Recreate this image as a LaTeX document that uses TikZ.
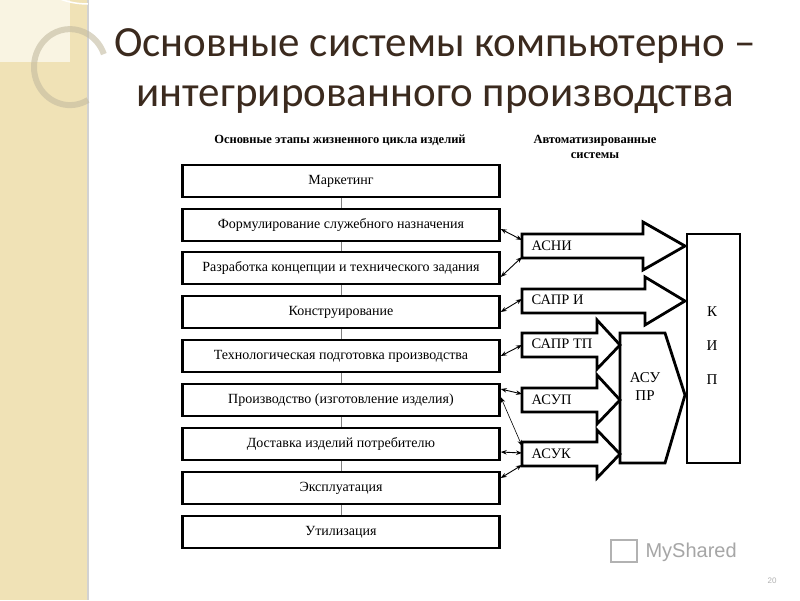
\documentclass[tikz,border=0pt]{standalone}
\usepackage{fontspec}
\setmainfont{Liberation Serif}
\newfontfamily\titlefont{Carlito}
\newfontfamily\sansf{Liberation Sans}
\usetikzlibrary{arrows.meta}
\definecolor{panel}{HTML}{F0E2B6}
\definecolor{ttl}{HTML}{3B2A1E}
\begin{document}
\begin{tikzpicture}[x=1pt,y=-1pt,
  stage/.style={draw,line width=2.4pt,minimum width=317pt,minimum height=32pt,inner sep=0pt,font=\fontsize{14}{16}\selectfont},
  blk/.style={draw,line width=2.8pt,fill=white,line join=miter},
  lbl/.style={font=\fontsize{14.5}{16}\selectfont,anchor=west},
  link/.style={line width=0.9pt,{Stealth[length=6pt,width=4.5pt]}-{Stealth[length=6pt,width=4.5pt]}}]
\useasboundingbox (0,0) rectangle (800,600);
\fill[white] (0,0) rectangle (800,600);
% side panel
\fill[panel] (0,0) rectangle (88,600);
\fill[panel!40!white] (0,0) rectangle (70,62);
\draw[gray!35,line width=2pt] (88,0) -- (88,600);
\draw[white,line width=1.5pt] (88,4) arc (90:260:72 and 64);
\draw[panel!60!gray,opacity=0.6,line width=6pt] (88,100) arc (60:340:36 and 38);
% title
\node[font=\titlefont\fontsize{43}{48}\selectfont,text=ttl] (t1) at (435,46) {Основные системы компьютерно –};
\node[font=\titlefont\fontsize{43}{48}\selectfont,text=ttl] (t2) at (435,100) {интегрированного производства};
% headings
\node[font=\bfseries\fontsize{12.5}{14}\selectfont] (h1) at (340,140) {Основные этапы жизненного цикла изделий};
\node[font=\bfseries\fontsize{12.5}{15}\selectfont,align=center] (h2) at (595,147) {Автоматизированные\\системы};
% stages
\foreach \n/\y/\t in {b1/181/Маркетинг,b2/225/Формулирование служебного назначения,b3/268/Разработка концепции и технического задания,b4/312/Конструирование,b5/356/Технологическая подготовка производства,b6/400/Производство (изготовление изделия),b7/444/Доставка изделий потребителю,b8/488/Эксплуатация,b9/532/Утилизация}
  \node[stage] (\n) at (341,\y) {\t};
\foreach \a/\b in {b1/b2,b2/b3,b3/b4,b4/b5,b5/b6,b6/b7,b7/b8,b8/b9}
  \draw[gray,line width=0.6pt] (\a.south) -- (\b.north);
% KIP and ASU PR
\draw[blk] (687,234) rectangle (740,463);
\node[font=\fontsize{15}{17}\selectfont] (k) at (712,312) {К};
\node[font=\fontsize{15}{17}\selectfont] (i) at (712,346) {И};
\node[font=\fontsize{15}{17}\selectfont] (p) at (712,380) {П};
\draw[blk] (620,333) -- (665,333) -- (685,395) -- (665,463) -- (620,463) -- cycle;
\node[font=\fontsize{15}{18}\selectfont,align=center] (asupr) at (645,387) {АСУ\\ПР};
% block arrows
\draw[blk] (522,234) -- (643,234) -- (643,222) -- (685,246) -- (643,270) -- (643,258) -- (522,258) -- cycle;
\draw[blk] (522,289) -- (645,289) -- (645,277) -- (685,301) -- (645,325) -- (645,313) -- (522,313) -- cycle;
\draw[blk] (522,333) -- (597,333) -- (597,320) -- (620,345) -- (597,369) -- (597,357) -- (522,357) -- cycle;
\draw[blk] (522,388) -- (597,388) -- (597,375) -- (620,400) -- (597,424) -- (597,412) -- (522,412) -- cycle;
\draw[blk] (522,442) -- (597,442) -- (597,430) -- (620,454) -- (597,478) -- (597,466) -- (522,466) -- cycle;
\node[lbl] (a1) at (528,246) {АСНИ};
\node[lbl] (a2) at (528,300) {САПР И};
\node[lbl] (a3) at (528,344) {САПР ТП};
\node[lbl] (a4) at (528,400) {АСУП};
\node[lbl] (a5) at (528,454) {АСУК};
% links
\coordinate (c1) at (522,240); \coordinate (c2) at (522,257);
\coordinate (c3) at (522,299); \coordinate (c4) at (522,345);
\coordinate (c5) at (522,394); \coordinate (c6) at (522,446);
\coordinate (c7) at (522,453); \coordinate (c8) at (522,465);
\draw[link] (b2.east) ++(0,4) -- (c1);
\draw[link] (b3.east) ++(0,9) -- (c2);
\draw[link] (b4.east) -- (c3);
\draw[link] (b5.east) -- (c4);
\draw[link] (b6.east) ++(0,-11) -- (c5);
\draw[link,line width=0.6pt] (b6.east) ++(0,-3) -- (c6);
\draw[link] (b7.east) ++(0,8) -- (c7);
\draw[link] (b8.east) ++(0,-10) -- (c8);
% watermark
\node[font=\sansf\fontsize{20}{22}\selectfont,text=gray!70,anchor=west] (ms) at (642,552) {MyShared};
\draw[gray!60,line width=1.5pt] (611,540) rectangle (637,562);
\node[font=\sansf\fontsize{8}{9}\selectfont,text=gray!60] (pg) at (772,581) {20};
\end{tikzpicture}
\end{document}
